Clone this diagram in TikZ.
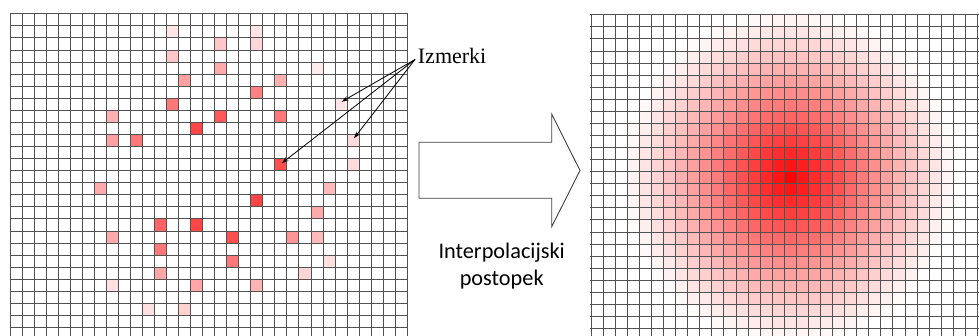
\documentclass[tikz,border=0pt]{standalone}
\usepackage{fontspec}
\setmainfont{Liberation Serif}
\newfontfamily\labelsans{Carlito}
\usetikzlibrary{arrows.meta}

\tikzset{
  gridline/.style={draw=black!68, line width=1.3pt},
  samplecell/.style={fill=red!#1!white, draw=none},
  pointer/.style={draw=black, line width=0.8pt, -{Stealth[length=7pt,width=4.5pt]}},
  bigarrow/.style={draw=black!75, line width=0.9pt, fill=white, line join=miter},
}

% grid line positions snapped to pixel centres
\newcommand\leftcolx[1]{\pgfmathsetmacro\gx{round(10+(#1)*12.02)+0.5}}
\newcommand\leftrowy[1]{\pgfmathsetmacro\gy{round(13.3+(#1)*12.07)+0.5}}
\newcommand\rightcolx[1]{\pgfmathsetmacro\gx{round(590.7+(#1)*12.07)+0.5}}
\newcommand\rightrowy[1]{\pgfmathsetmacro\gy{round(14.3+(#1)*12.07)+0.5}}

\begin{document}
\begin{tikzpicture}[x=1pt,y=-1pt]
\useasboundingbox (0,0) rectangle (979,336);
\clip (0,0) rectangle (979,336);
\fill[white] (0,0) rectangle (979,336);

% ---- scattered samples on the left grid: {column/row/red percent}
\foreach \cc/\rr/\pc in {
  13/1/10, 13/3/22, 14/5/37, 13/7/53, 8/8/31, 15/9/73, 8/10/37, 10/10/53,
  20/1/10, 17/2/22, 20/2/16, 17/4/33, 25/4/8, 22/5/31, 20/6/49, 27/7/10,
  17/8/65, 22/8/53, 28/10/14, 22/12/69, 28/12/14,
  7/14/33, 12/17/61, 15/17/73, 8/18/33, 12/19/53, 12/21/35, 8/22/12,
  15/22/35, 11/24/12, 14/24/18,
  26/14/27, 20/15/73, 25/16/33, 18/18/69, 23/18/41, 25/18/27, 18/20/53,
  26/20/12, 24/21/16, 20/22/29}{
  \leftcolx{\cc}\let\cellL\gx \leftcolx{\cc+1}\let\cellR\gx
  \leftrowy{\rr}\let\cellT\gy \leftrowy{\rr+1}\let\cellB\gy
  \fill[samplecell=\pc] (\cellL,\cellT) rectangle (\cellR,\cellB);
}

% ---- interpolated field on the right grid (radial falloff)
\foreach \ii in {0,...,32}{
  \foreach \jj in {0,...,26}{
    \rightcolx{\ii}\let\cellL\gx \rightcolx{\ii+1}\let\cellR\gx
    \rightrowy{\jj}\let\cellT\gy \rightrowy{\jj+1}\let\cellB\gy
    \pgfmathsetmacro\dist{veclen((\cellL+\cellR)/2-789.9, (\cellT+\cellB)/2-177.2)}
    \pgfmathsetmacro\tt{max(1-\dist/168,0.001)}
    \pgfmathsetmacro\pp{100*pow(\tt,1.15)}
    \pgfmathparse{\pp>0.4 ? 1 : 0}
    \ifnum\pgfmathresult=1
      \fill[red!\pp!white] (\cellL,\cellT) rectangle (\cellR,\cellB);
    \fi
  }
}

% ---- grid lines, left
\foreach \kk in {0,...,33}{
  \leftcolx{\kk}
  \draw[gridline] (\gx,13.2) -- (\gx,345);
}
\foreach \kk in {0,...,27}{
  \leftrowy{\kk}
  \draw[gridline] (10,\gy) -- (407.2,\gy);
}
% ---- grid lines, right
\foreach \kk in {0,...,33}{
  \rightcolx{\kk}
  \draw[gridline] (\gx,14) -- (\gx,345);
}
\foreach \kk in {0,...,27}{
  \rightrowy{\kk}
  \draw[gridline] (590.4,\gy) -- (990,\gy);
}

% ---- label and pointers to three samples
\node[anchor=base west, inner sep=0pt, font=\fontsize{22}{24}\selectfont] (izm) at (417.7,63.3) {Izmerki};
\coordinate (src) at (415,59.5);
\coordinate (s1) at (341.7,101.7);
\coordinate (s2) at (354,138.3);
\coordinate (s3) at (281.7,163.3);
\draw[pointer] (src) -- (s1);
\draw[pointer] (src) -- (s2);
\draw[pointer] (src) -- (s3);

% ---- block arrow between the grids
\draw[bigarrow] (419,142.3) -- (551.7,142.3) -- (551.7,114) -- (580,170.5)
  -- (551.7,226.7) -- (551.7,198.3) -- (419,198.3) -- cycle;

\node[align=center, inner sep=0pt, font=\labelsans\fontsize{22.3}{26.5}\selectfont] (proc)
  at (501.7,266) {Interpolacijski\\postopek};
\end{tikzpicture}
\end{document}
